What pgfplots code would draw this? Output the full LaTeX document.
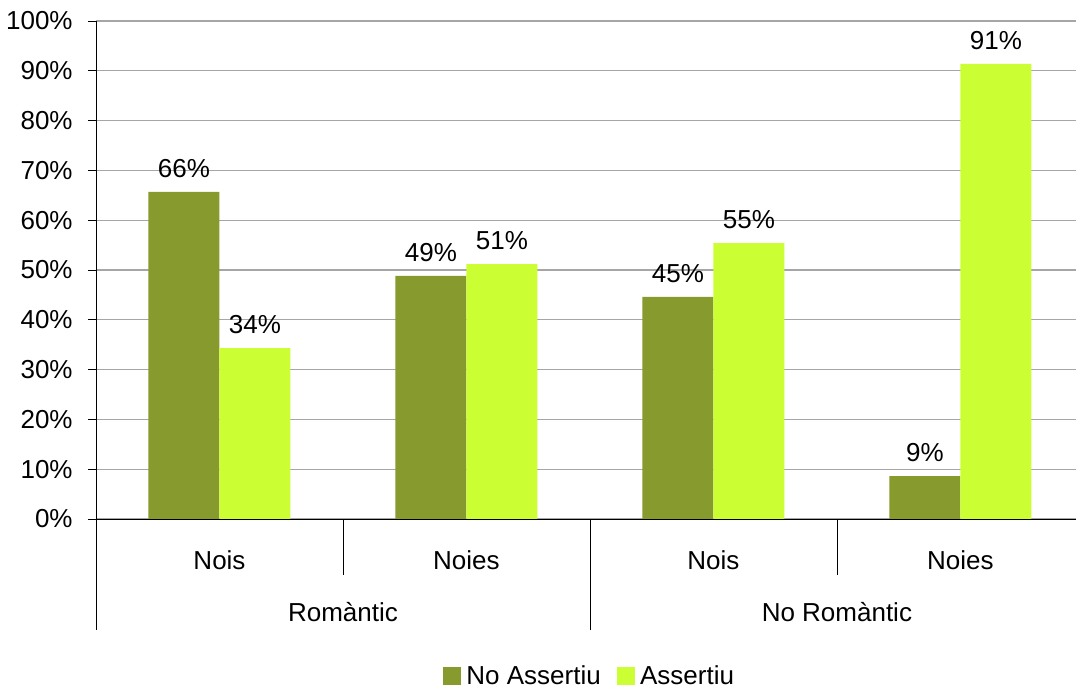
\documentclass[border=0pt]{standalone}
\usepackage{pgfplots}
\pgfplotsset{compat=1.18}
\usepackage{fontspec}
\setmainfont{Liberation Sans}
\definecolor{dark}{HTML}{879A2E}
\definecolor{light}{HTML}{CCFF33}
\definecolor{gridc}{HTML}{A6A6A6}
\begin{document}
\begin{tikzpicture}
\path[use as bounding box] (-72pt,-127.5pt) rectangle (735pt,389.25pt);
\clip (-72pt,-127.5pt) rectangle (735pt,389.25pt);
\begin{axis}[
  at={(0,0)}, anchor=south west,
  scale only axis, width=735pt, height=373.5pt,
  clip=false,
  font=\fontsize{19.5}{23}\selectfont,
  /pgf/number format/assume math mode=true,
  ybar=0pt, bar width=53.25pt,
  xmin=-0.5, xmax=3.468, ymin=0, ymax=100,
  axis lines*=left,
  axis line style={black, line width=0.6pt},
  xtick={0,1,2,3}, xticklabels={Nois,Noies,Nois,Noies},
  xtick style={draw=none},
  xticklabel style={yshift=-14pt},
  ytick={0,10,...,100},
  yticklabel={\pgfmathprintnumber{\tick}\%},
  ytick style={black, line width=0.6pt},
  tick align=outside, major tick length=6pt,
  yticklabel style={xshift=-8pt},
  ymajorgrids, grid style={gridc, line width=0.8pt},
  enlarge x limits=false,
  nodes near coords={\pgfmathprintnumber[fixed,precision=0]{\pgfplotspointmeta}\%},
  nodes near coords style={anchor=south, yshift=7pt, black},
  legend style={at={(0.504,-0.316)}, anchor=center, draw=none, legend columns=2,
    /tikz/every odd column/.append style={column sep=2pt},
    /tikz/every even column/.append style={column sep=10pt}},
  legend image code/.code={\fill[#1] (0pt,-6.75pt) rectangle (13.5pt,6.75pt);},
]
\addplot[fill=dark, draw=none] coordinates {(0,65.7) (1,48.8) (2,44.6) (3,8.6)};
\addplot[fill=light, draw=none] coordinates {(0,34.3) (1,51.2) (2,55.4) (3,91.4)};
\legend{No Assertiu, Assertiu}
\draw[black, line width=0.6pt] (axis cs:-0.5,0) -- ([yshift=-83.25pt]axis cs:-0.5,0);
\draw[black, line width=0.6pt] (axis cs:1.5,0) -- ([yshift=-83.25pt]axis cs:1.5,0);
\draw[black, line width=0.6pt] (axis cs:0.5,0) -- ([yshift=-42pt]axis cs:0.5,0);
\draw[black, line width=0.6pt] (axis cs:2.5,0) -- ([yshift=-42pt]axis cs:2.5,0);
\node at (axis cs:0.5,0) [yshift=-69.75pt] {Romàntic};
\node at (axis cs:2.5,0) [yshift=-69.75pt] {No Romàntic};
\end{axis}
\end{tikzpicture}
\end{document}
